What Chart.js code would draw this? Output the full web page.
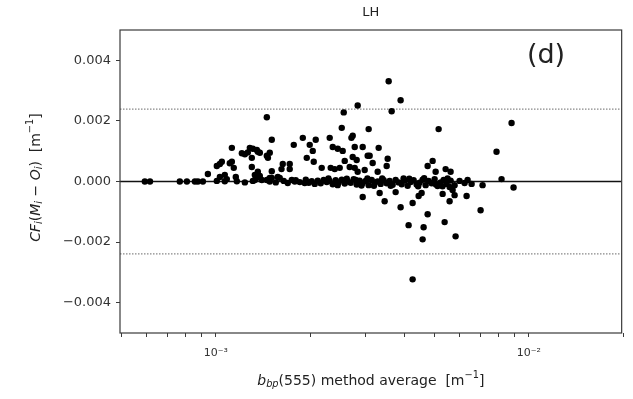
<!DOCTYPE html>
<html>
<head>
<meta charset="utf-8">
<script src="https://cdn.jsdelivr.net/npm/chart.js@4.4.1/dist/chart.umd.min.js"></script>
<style>
  html, body { margin: 0; padding: 0; background: #fff; }
</style>
</head>
<body>
<canvas id="chart" width="633" height="399"></canvas>
<script>
// bbp(555) method average [m^-1] and CF_i(M_i - O_i) [m^-1]
const bbpAvg = [
  // flat points at the low end
  5.93e-4, 6.16e-4, 7.67e-4, 8.08e-4, 8.57e-4, 8.76e-4, 9.09e-4, 9.43e-4,
  1.007e-3, 1.030e-3, 1.068e-3, 1.084e-3, 1.158e-3, 1.167e-3, 1.238e-3, 1.313e-3,
  // left cluster above zero
  1.007e-3, 1.030e-3, 1.045e-3, 1.068e-3, 1.125e-3, 1.125e-3, 1.141e-3, 1.108e-3,
  1.211e-3, 1.238e-3, 1.265e-3, 1.284e-3, 1.313e-3, 1.352e-3, 1.303e-3, 1.303e-3, 1.332e-3,
  1.362e-3, 1.382e-3, 1.455e-3, 1.487e-3, 1.467e-3, 1.455e-3, 1.509e-3, 1.509e-3,
  1.362e-3, 1.382e-3, 1.455e-3, 1.487e-3, 1.577e-3, 1.636e-3, 1.722e-3, 1.621e-3, 1.722e-3,
  // middle, above zero
  1.774e-3, 1.896e-3, 1.995e-3, 2.085e-3, 2.040e-3, 1.952e-3, 2.055e-3, 2.179e-3,
  2.311e-3, 2.328e-3, 2.398e-3, 2.363e-3, 2.452e-3, 2.543e-3, 2.525e-3, 2.562e-3,
  2.839e-3, 2.711e-3, 2.737e-3, 2.778e-3, 2.946e-3, 2.581e-3, 2.737e-3, 2.818e-3,
  2.677e-3, 2.778e-3, 2.989e-3, 2.839e-3, 2.488e-3, 3.078e-3, 3.056e-3, 3.566e-3,
  3.894e-3, 3.645e-3, 5.150e-3, 3.313e-3, 3.101e-3, 3.170e-3, 3.540e-3, 3.514e-3,
  3.289e-3, 4.928e-3, 4.750e-3, 5.038e-3, 5.422e-3, 5.625e-3,
  // high end
  8.807e-3, 7.885e-3, 8.182e-3, 8.937e-3, 7.116e-3, 6.564e-3, 6.374e-3,
  // near zero, middle
  1.923e-3, 1.748e-3, 1.787e-3, 1.509e-3, 1.600e-3, 1.487e-3, 1.352e-3, 1.332e-3,
  // below zero
  2.946e-3, 3.337e-3, 3.462e-3, 3.754e-3, 3.894e-3, 4.253e-3, 4.445e-3, 4.545e-3,
  4.130e-3, 4.612e-3, 4.578e-3, 4.750e-3, 5.304e-3, 5.584e-3, 5.383e-3, 5.835e-3,
  6.327e-3, 4.253e-3, 5.708e-3, 5.793e-3, 5.584e-3, 7.013e-3,
  // dense band on the zero line
  1.402e-3, 1.554e-3, 1.648e-3, 1.697e-3, 1.800e-3, 1.854e-3, 1.938e-3, 1.981e-3,
  2.025e-3, 2.070e-3, 2.116e-3, 2.163e-3, 2.211e-3, 2.261e-3, 2.311e-3, 2.363e-3,
  2.415e-3, 2.469e-3, 2.525e-3, 2.581e-3, 2.638e-3, 2.697e-3, 2.757e-3, 2.818e-3,
  2.881e-3, 2.946e-3, 3.011e-3, 3.078e-3, 3.147e-3, 3.217e-3, 3.289e-3, 3.362e-3,
  3.437e-3, 3.514e-3, 3.592e-3, 3.672e-3, 3.754e-3, 3.838e-3, 3.924e-3, 4.011e-3,
  4.100e-3, 4.192e-3, 4.285e-3, 4.381e-3, 4.478e-3, 4.578e-3, 4.681e-3, 4.785e-3,
  4.892e-3, 5.001e-3, 5.112e-3, 5.227e-3, 5.343e-3, 5.462e-3, 5.625e-3, 5.793e-3,
  6.009e-3, 6.235e-3,
  2.29e-3, 2.45e-3, 2.62e-3, 2.80e-3, 2.92e-3, 3.05e-3, 3.20e-3, 3.40e-3,
  3.62e-3, 3.98e-3, 4.15e-3, 4.43e-3, 4.63e-3, 5.05e-3, 5.30e-3, 5.50e-3
];
const cfDiff = [
  0, 0, 0, 0, 0, 0, 0, 0.00025,
  0.00002, 0.00015, 0.00001, 0.00008, 0.00015, 0.00001, -0.00003, 0.00002,
  0.00051, 0.00058, 0.00065, 0.00022, 0.00111, 0.00065, 0.00045, 0.00060,
  0.00093, 0.00090, 0.00096, 0.00111, 0.00108, 0.00104, 0.00078, 0.00048, 0.00022,
  0.00098, 0.00095, 0.00085, 0.00095, 0.00078, 0.00212, 0.00138, 0.00034,
  0.00032, 0.00018, 0.00005, 0.00012, 0.00015, 0.00058, 0.00058, 0.00041, 0.00041,
  0.00121, 0.00144, 0.00121, 0.00138, 0.00101, 0.00078, 0.00065, 0.00045,
  0.00144, 0.00045, 0.00041, 0.00114, 0.00108, 0.00101, 0.00177, 0.00228,
  0.00251, 0.00144, 0.00151, 0.00114, 0.00114, 0.00068, 0.00081, 0.00071,
  0.00048, 0.00045, 0.00038, 0.00032, 0.00045, 0.00173, 0.00085, 0.00331,
  0.00268, 0.00232, 0.00173, 0.00111, 0.00085, 0.00061, 0.00075, 0.00051,
  0.00032, 0.00068, 0.00051, 0.00032, 0.00041, 0.00032,
  0.00193, 0.00098, 0.00008, -0.00020, -0.00012, -0.00008, 0.00005,
  -0.00005, 0.00005, 0, 0.00012, 0.00012, 0, 0.00012, 0.00005,
  -0.00051, -0.00038, -0.00065, -0.00035, -0.00085, -0.00071, -0.00048, -0.00038,
  -0.00144, -0.00151, -0.00191, -0.00108, -0.00041, -0.00065, -0.00134, -0.00181,
  -0.00048, -0.00323, -0.00028, -0.00045, -0.00018, -0.00095,
  0.00005, -0.00003, 0.00002, -0.00005, 0.00004, -0.00002, 0.00006, -0.00004,
  0.00001, -0.00008, 0.00003, -0.00006, 0.00005, -0.00002, 0.00002, -0.00009,
  0.00004, -0.00003, 0.00006, -0.00007, 0.00001, -0.00004, 0.00008, -0.00010,
  0.00003, -0.00005, 0.00002, -0.00012, 0.00005, -0.00003, 0, -0.00008,
  0.00004, -0.00006, 0.00002, -0.00011, 0.00005, -0.00003, -0.00009, 0.00003,
  -0.00014, -0.00002, 0.00004, -0.00010, -0.00004, 0.00006, -0.00012, 0.00002,
  -0.00006, 0.00008, -0.00015, -0.00003, 0.00005, -0.00008, 0.00003, -0.00012,
  0.00002, -0.00005,
  0.00010, -0.00012, 0.00009, 0.00005, -0.00013, 0.00010, -0.00014, 0.00010,
  -0.00014, 0.00010, 0.00009, -0.00016, 0.00011, -0.00010, -0.00016, 0.00010
];

const yTicks = [-0.004, -0.002, 0, 0.002, 0.004];
const xMinorTicks = [5e-4, 6e-4, 7e-4, 8e-4, 9e-4, 1e-3, 2e-3, 3e-3, 4e-3, 5e-3,
  6e-3, 7e-3, 8e-3, 9e-3, 1e-2, 2e-2];
const xMajorLabels = { "0.001": "10⁻³", "0.01": "10⁻²" };
const limit = 0.00239; // dotted lines at +/- this
const xRange = [4.94e-4, 1.98e-2];
const yRange = [-0.005, 0.005];

const points = bbpAvg.map((x, i) => ({ x: x, y: cfDiff[i] }));

// draw text made of normal / italic / sub / sup pieces, centred on (0,0)
function drawRich(ctx, parts, size) {
  const fam = '"DejaVu Sans", sans-serif';
  const pieces = parts.map(([t, kind]) => {
    const small = kind === "sub" || kind === "isub" || kind === "sup";
    const italic = kind === "i" || kind === "isub";
    const fs = small ? size * 0.7 : size;
    const font = (italic ? "italic " : "") + fs + "px " + fam;
    ctx.font = font;
    const dy = kind === "sub" || kind === "isub" ? size * 0.22 : kind === "sup" ? -size * 0.38 : 0;
    return { t, font, dy, w: ctx.measureText(t).width };
  });
  const total = pieces.reduce((s, p) => s + p.w, 0);
  let x = -total / 2;
  ctx.textBaseline = "middle";
  ctx.textAlign = "left";
  pieces.forEach((p) => {
    ctx.font = p.font;
    ctx.fillText(p.t, x, p.dy);
    x += p.w;
  });
}

const decorations = {
  id: "decorations",
  afterDraw(chart) {
    const ctx = chart.ctx;
    const a = chart.chartArea;
    ctx.save();
    // axes frame
    ctx.strokeStyle = "#3a3a3a";
    ctx.lineWidth = 1.2;
    ctx.strokeRect(a.left, a.top, a.right - a.left, a.bottom - a.top);

    ctx.fillStyle = "#222";
    ctx.font = '13px "DejaVu Sans", sans-serif';
    ctx.textAlign = "center";
    ctx.textBaseline = "middle";
    ctx.fillText("LH", (a.left + a.right) / 2, 13);

    ctx.font = '27px "DejaVu Sans", sans-serif';
    ctx.fillText("(d)", 546, 56);

    // x axis label
    ctx.save();
    ctx.translate((a.left + a.right) / 2, 381);
    drawRich(ctx, [["b", "i"], ["bp", "isub"], ["(555) method average  [m", "n"], ["−1", "sup"], ["]", "n"]], 14);
    ctx.restore();

    // y axis label
    ctx.save();
    ctx.translate(36, (a.top + a.bottom) / 2 - 4);
    ctx.rotate(-Math.PI / 2);
    drawRich(ctx, [["CF", "i"], ["i", "isub"], ["(", "n"], ["M", "i"], ["i", "isub"],
      [" − ", "n"], ["O", "i"], ["i", "isub"], [")  [m", "n"], ["−1", "sup"], ["]", "n"]], 14);
    ctx.restore();
    ctx.restore();
  }
};

const lineStyle = { type: "line", pointRadius: 0, fill: false, showLine: true };

new Chart(document.getElementById("chart"), {
  type: "scatter",
  data: {
    datasets: [
      {
        label: "LH",
        data: points,
        backgroundColor: "#000",
        borderColor: "#000",
        pointRadius: 3.2,
        pointBorderWidth: 0,
        order: 0
      },
      Object.assign({}, lineStyle, {
        label: "zero",
        data: [{ x: xRange[0], y: 0 }, { x: xRange[1], y: 0 }],
        borderColor: "#111",
        borderWidth: 1.3,
        order: 1
      }),
      Object.assign({}, lineStyle, {
        label: "upper",
        data: [{ x: xRange[0], y: limit }, { x: xRange[1], y: limit }],
        borderColor: "#888",
        borderWidth: 1.2,
        borderDash: [1.5, 1.5],
        order: 2
      }),
      Object.assign({}, lineStyle, {
        label: "lower",
        data: [{ x: xRange[0], y: -limit }, { x: xRange[1], y: -limit }],
        borderColor: "#888",
        borderWidth: 1.2,
        borderDash: [1.5, 1.5],
        order: 3
      })
    ]
  },
  options: {
    responsive: false,
    animation: false,
    layout: { padding: { left: 0, right: 11, top: 30, bottom: 0 } },
    plugins: { legend: { display: false }, tooltip: { enabled: false } },
    scales: {
      x: {
        type: "logarithmic",
        min: xRange[0],
        max: xRange[1],
        afterBuildTicks: (scale) => { scale.ticks = xMinorTicks.map((v) => ({ value: v })); },
        afterFit: (scale) => { scale.height = 66; },
        border: { display: false },
        grid: { drawOnChartArea: false, drawTicks: true, tickLength: 4, color: "#3a3a3a", tickWidth: 1 },
        ticks: {
          autoSkip: false,
          maxRotation: 0,
          padding: 10,
          color: "#333",
          font: { family: "DejaVu Sans", size: 11 },
          callback: (v) => xMajorLabels[String(v)] || ""
        }
      },
      y: {
        min: yRange[0],
        max: yRange[1],
        afterBuildTicks: (scale) => { scale.ticks = yTicks.map((v) => ({ value: v })); },
        afterFit: (scale) => { scale.width = 120; },
        border: { display: false },
        grid: { drawOnChartArea: false, drawTicks: true, tickLength: 4, color: "#3a3a3a" },
        ticks: {
          padding: 5,
          color: "#333",
          font: { family: "DejaVu Sans", size: 13 },
          callback: (v) => v.toFixed(3).replace("-", "−")
        }
      }
    }
  },
  plugins: [decorations]
});
</script>
</body>
</html>
